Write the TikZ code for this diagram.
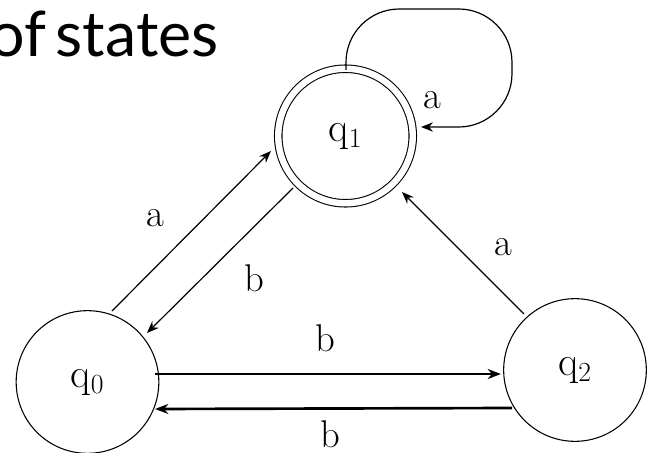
\documentclass[tikz,border=0pt]{standalone}
\usepackage{fontspec}
\newfontfamily\titlefont{Lato}
\usetikzlibrary{arrows.meta,calc}
\begin{document}
\begin{tikzpicture}[x=0.75pt,y=-0.75pt,
  state/.style={circle,draw,line width=0.8pt,minimum size=107pt,inner sep=0pt,
    font=\fontsize{31}{36}\selectfont},
  accept/.style={state,double,double distance=4.8pt,line width=0.8pt,minimum size=100.9pt},
  edge/.style={line width=0.9pt,-{Stealth[length=9pt,width=7pt]}},
  thickedge/.style={line width=2pt,-{Stealth[length=10pt,width=7.5pt]}},
  lbl/.style={font=\fontsize{29}{35}\selectfont,inner sep=0pt}]
\useasboundingbox (0,0) rectangle (654,453);

\node[anchor=base east,inner sep=0pt,font=\titlefont\fontsize{47}{54}\selectfont] (title) at (219,57) {of\hspace{7pt}states};

\node[accept] (q1) at (345.5,136) {$\mathrm{q}_1$};
\node[state] (q0) at (87.5,382) {$\mathrm{q}_0$};
\node[state] (q2) at (575,370) {$\mathrm{q}_2$};

% edges
\draw[edge] ($(q0)+(24.5,-71)$) -- ($(q1)+(-74.5,15)$);
\draw[edge] ($(q1)+(-52.5,52)$) -- ($(q0)+(59.5,-49)$);
\draw[edge] ($(q2)+(-51,-56)$) -- ($(q1)+(56.5,56)$);
\draw[thickedge] ($(q0)+(67.5,-8)$) -- ($(q2)+(-74,4)$);
\draw[thickedge] ($(q2)+(-63,38)$) -- ($(q0)+(67.5,27)$);
\draw[edge,rounded corners=40pt] ($(q1)+(0.5,-66)$) |- ($(q1)+(166.5,-127)$) |- ($(q1)+(75.5,-9)$);

% labels
\node[lbl] (l1) at (155,218) {a};
\node[lbl] (l2) at (254,278) {b};
\node[lbl] (l3) at (503,247) {a};
\node[lbl] (l4) at (325,338) {b};
\node[lbl] (l5) at (330,434) {b};
\node[lbl] (l6) at (432,100) {a};
\end{tikzpicture}
\end{document}
